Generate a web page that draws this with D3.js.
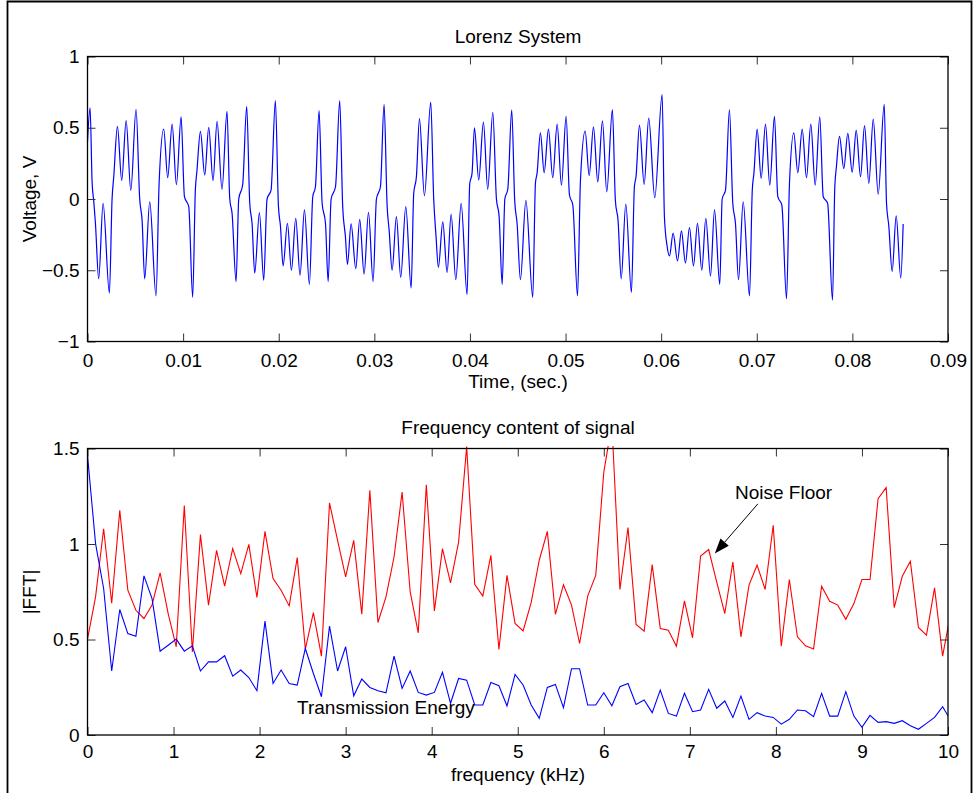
<!DOCTYPE html>
<html>
<head>
<meta charset="utf-8">
<script src="https://cdn.jsdelivr.net/npm/d3@7/dist/d3.min.js"></script>
<style>
  html, body { margin: 0; padding: 0; background: #fff; }
  svg { display: block; }
  text { font-family: "Liberation Sans", Arial, Helvetica, sans-serif; fill: #000; }
</style>
</head>
<body>
<svg id="fig" width="977" height="793"></svg>
<script>
// ---- Lorenz signal: time (ms) and voltage (V) at turning points / shoulders ----
const lorenzTimeMs = [
  0.00, 0.27, 0.48, 0.66, 0.83, 1.17, 1.63, 2.29, 2.57, 2.75, 3.13, 3.58, 4.04, 4.53, 5.08,
  5.46, 5.71, 5.98, 6.51, 7.17, 7.49, 7.97, 8.39, 8.85, 9.30, 9.79, 10.14, 10.59, 11.00,
  11.28, 11.45, 11.81, 12.26, 12.68, 13.13, 13.55, 14.07, 14.59, 14.88, 15.12, 15.54,
  15.82, 16.23, 16.65, 16.97, 17.21, 17.49, 17.98, 18.43, 18.78, 19.20, 19.65, 19.97,
  20.18, 20.46, 20.91, 21.33, 21.78, 22.23, 22.69, 23.21, 23.56, 23.84, 24.22, 24.54,
  24.89, 25.17, 25.48, 25.94, 26.38, 26.69, 26.97, 27.19, 27.57, 28.06, 28.47, 28.93,
  29.39, 29.87, 30.22, 30.64, 31.02, 31.34, 31.55, 31.86, 32.31, 32.76, 33.29, 33.85,
  34.12, 34.40, 34.72, 35.24, 35.90, 36.21, 36.45, 36.70, 37.16, 37.61, 38.03, 38.52,
  39.08, 39.70, 39.98, 40.22, 40.47, 40.92, 41.41, 41.86, 42.39, 42.77, 43.05, 43.37,
  43.65, 43.96, 44.37, 44.68, 44.93, 45.28, 45.85, 46.57, 46.85, 47.02, 47.37, 47.76,
  48.21, 48.66, 49.12, 49.57, 50.06, 50.41, 50.76, 51.25, 51.56, 52.05, 52.47, 52.92,
  53.37, 53.86, 54.31, 54.90, 55.21, 55.49, 55.82, 56.30, 56.89, 57.20, 57.37, 57.73,
  58.22, 58.70, 59.33, 60.10, 60.34, 60.62, 60.87, 61.25, 61.71, 62.12, 62.54, 62.96,
  63.38, 63.80, 64.25, 64.67, 65.16, 65.58, 66.13, 66.38, 66.73, 67.14, 67.49, 67.77,
  68.09, 68.58, 69.24, 69.53, 69.70, 70.04, 70.46, 70.91, 71.36, 71.85, 72.20, 72.62,
  73.11, 73.42, 73.87, 74.29, 74.75, 75.20, 75.65, 76.11, 76.59, 76.95, 77.41, 77.92,
  78.16, 78.33, 78.65, 79.10, 79.52, 79.98, 80.40, 80.85, 81.27, 81.72, 82.18, 82.70,
  83.33, 83.57, 83.81, 84.16, 84.58, 85.06, 85.31
];
const lorenzVolt = [
  0.40, 0.64, 0.12, -0.02, -0.17, -0.56, -0.03, -0.66, 0.00, 0.16, 0.51, 0.13, 0.55, 0.06, 0.63,
  0.00, -0.15, -0.56, -0.02, -0.68, 0.11, 0.49, 0.15, 0.525, 0.10, 0.576, 0.016, -0.054, -0.69,
  0.063, 0.20, 0.475, 0.168, 0.503, 0.128, 0.545, 0.068, 0.615, 0.00, -0.10, -0.58,
  0.00, 0.10, 0.65, -0.03, -0.17, -0.52, -0.095, -0.57, 0.00, 0.063, 0.69, -0.05,
  -0.19, -0.47, -0.17, -0.50, -0.135, -0.535, -0.077, -0.60, 0.016, 0.086, 0.62, -0.03,
  -0.17, -0.58, 0.00, 0.086, 0.69, -0.05, -0.26, -0.46, -0.175, -0.49, -0.142, -0.527,
  -0.093, -0.58, 0.00, 0.086, 0.664, -0.05, -0.22, -0.50, -0.124, -0.55, -0.054, -0.625,
  0.04, 0.156, 0.564, 0.023, 0.68, 0.00, -0.26, -0.48, -0.16, -0.515, -0.107, -0.566,
  -0.03, -0.67, 0.109, 0.18, 0.50, 0.133, 0.54, 0.068, 0.608, 0.00, -0.12, -0.60,
  0.00, 0.07, 0.625, -0.01, -0.17, -0.566, -0.01, -0.69, 0.11, 0.18, 0.464, 0.184,
  0.49, 0.149, 0.525, 0.097, 0.58, 0.028, -0.042, -0.68, 0.133, 0.477, 0.165, 0.506,
  0.12, 0.548, 0.05, 0.627, -0.01, -0.15, -0.56, -0.035, -0.655, 0.086, 0.156, 0.518,
  0.102, 0.568, 0.009, 0.732, -0.124, -0.33, -0.40, -0.24, -0.434, -0.224, -0.45, -0.20,
  -0.47, -0.17, -0.50, -0.135, -0.54, -0.077, -0.60, 0.00, 0.063, 0.627, -0.03, -0.17,
  -0.566, -0.02, -0.68, 0.063, 0.18, 0.49, 0.144, 0.525, 0.097, 0.58, 0.016, -0.042,
  -0.70, 0.11, 0.464, 0.184, 0.49, 0.149, 0.525, 0.097, 0.576, 0.016, -0.03, -0.71,
  0.086, 0.226, 0.44, 0.214, 0.46, 0.188, 0.482, 0.156, 0.515, 0.109, 0.56, 0.033,
  0.664, -0.03, -0.19, -0.508, -0.118, -0.554, -0.175
];

// ---- Spectrum: bin width (kHz) and |FFT| magnitudes per bin ----
const binWidthKHz = 0.09375;
const noiseFloorFFT = [
  0.502, 0.723, 1.08, 0.69, 1.176, 0.758, 0.653, 0.61, 0.68, 0.849,
  0.636, 0.462, 1.202, 0.435, 1.049, 0.68, 0.967, 0.779, 0.976, 0.845,
  0.998, 0.72, 1.066, 0.819, 0.758, 0.676, 0.929, 0.45, 0.641, 0.413,
  1.215, 1.019, 0.828, 1.019, 0.633, 1.281, 0.589, 0.723, 0.932, 1.272,
  0.749, 0.535, 1.31, 0.65, 0.976, 0.796, 1.01, 1.51, 0.789, 0.727,
  0.941, 0.448, 0.836, 0.584, 0.545, 0.694, 0.915, 1.066, 0.632, 0.787,
  0.68, 0.479, 0.727, 0.836, 1.376, 1.63, 0.762, 1.086, 0.579, 0.544,
  0.892, 0.558, 0.549, 0.465, 0.702, 0.509, 0.937, 0.971, 0.801, 0.636,
  0.906, 0.514, 0.785, 0.889, 0.762, 1.098, 0.465, 0.814, 0.514, 0.467,
  0.45, 0.779, 0.70, 0.68, 0.606, 0.688, 0.814, 0.814, 1.237, 1.295,
  0.667, 0.831, 0.91, 0.563, 0.523, 0.77, 0.413, 0.64
];
const transmissionFFT = [
  1.464, 1.002, 0.767, 0.335, 0.657, 0.531, 0.517, 0.833, 0.714, 0.439,
  0.47, 0.502, 0.439, 0.467, 0.335, 0.383, 0.383, 0.415, 0.308, 0.34,
  0.301, 0.232, 0.596, 0.27, 0.34, 0.27, 0.261, 0.453, 0.322, 0.20,
  0.57, 0.335, 0.462, 0.205, 0.293, 0.249, 0.232, 0.221, 0.413, 0.244,
  0.335, 0.223, 0.209, 0.223, 0.328, 0.166, 0.296, 0.287, 0.157, 0.157,
  0.275, 0.258, 0.152, 0.317, 0.262, 0.157, 0.087, 0.249, 0.265, 0.143,
  0.347, 0.347, 0.157, 0.157, 0.221, 0.153, 0.253, 0.27, 0.16, 0.183,
  0.117, 0.235, 0.113, 0.099, 0.218, 0.122, 0.131, 0.239, 0.14, 0.178,
  0.092, 0.204, 0.082, 0.117, 0.099, 0.092, 0.057, 0.082, 0.131, 0.127,
  0.096, 0.218, 0.099, 0.099, 0.227, 0.099, 0.04, 0.103, 0.066, 0.07,
  0.061, 0.075, 0.049, 0.03, 0.061, 0.092, 0.148, 0.077
];

// ---- Tick values and labels ----
const timeTicks = [0, 0.01, 0.02, 0.03, 0.04, 0.05, 0.06, 0.07, 0.08, 0.09];
const timeTickLabels = ["0", "0.01", "0.02", "0.03", "0.04", "0.05", "0.06", "0.07", "0.08", "0.09"];
const voltTicks = [-1, -0.5, 0, 0.5, 1];
const voltTickLabels = ["\u22121", "\u22120.5", "0", "0.5", "1"];
const freqTicks = [0, 1, 2, 3, 4, 5, 6, 7, 8, 9, 10];
const freqTickLabels = ["0", "1", "2", "3", "4", "5", "6", "7", "8", "9", "10"];
const fftTicks = [0, 0.5, 1, 1.5];
const fftTickLabels = ["0", "0.5", "1", "1.5"];

// ---- Annotations (data coordinates of the lower axes) ----
const noiseLabel = { text: "Noise Floor", f: 7.525, v: 1.235 };
const noiseArrow = { f0: 7.79, v0: 1.21, f1: 7.29, v1: 0.95 };
const transLabel = { text: "Transmission Energy", f: 2.435, v: 0.11 };

const FONT = 19;
const svg = d3.select("#fig");

// Figure frame
svg.append("rect").attr("width", 977).attr("height", 793).attr("fill", "#fff");
svg.append("path")
  .attr("d", "M7.5,800 V1.5 H971.5 V800")
  .attr("fill", "none").attr("stroke", "#000").attr("stroke-width", 1.8);

const left = 87.5, right = 948;

function drawAxes(g, x, y, xt, xl, yt, yl, xPad) {
  const [y0, y1] = y.range();
  const [x0, x1] = x.range();
  // labelled bottom/left axes, mirrored unlabelled top/right ticks
  g.append("g").attr("transform", `translate(0,${y0})`)
    .call(d3.axisBottom(x).tickValues(xt).tickFormat((d, i) => xl[i]).tickSize(-8).tickPadding(xPad))
    .call(s => s.select(".domain").remove());
  g.append("g").attr("transform", `translate(0,${y1})`)
    .call(d3.axisTop(x).tickValues(xt).tickFormat("").tickSize(-8))
    .call(s => s.select(".domain").remove());
  g.append("g").attr("transform", `translate(${x0},0)`)
    .call(d3.axisLeft(y).tickValues(yt).tickFormat((d, i) => yl[i]).tickSize(-8).tickPadding(8))
    .call(s => s.select(".domain").remove());
  g.append("g").attr("transform", `translate(${x1},0)`)
    .call(d3.axisRight(y).tickValues(yt).tickFormat("").tickSize(-8))
    .call(s => s.select(".domain").remove());
  g.selectAll(".tick line").attr("stroke", "#333").attr("stroke-width", 1);
  g.selectAll(".tick text").attr("font-size", FONT).attr("font-family", null).attr("fill", "#000");
  g.append("rect")
    .attr("x", x0).attr("y", y1).attr("width", x1 - x0).attr("height", y0 - y1)
    .attr("fill", "none").attr("stroke", "#000").attr("stroke-width", 1.3);
}

// ---------------- Top panel: Lorenz System ----------------
const xT = d3.scaleLinear().domain([0, 0.09]).range([left, right]);
const yT = d3.scaleLinear().domain([-1, 1]).range([341.5, 56.5]);
const gTop = svg.append("g");

const lorenz = lorenzTimeMs.map((t, i) => ({ t: t / 1000, v: lorenzVolt[i] }));
gTop.append("path")
  .datum(lorenz)
  .attr("fill", "none").attr("stroke", "#0000ff").attr("stroke-width", 1.2)
  .attr("d", d3.line().x(d => xT(d.t)).y(d => yT(d.v)).curve(d3.curveMonotoneX));

drawAxes(gTop, xT, yT, timeTicks, timeTickLabels, voltTicks, voltTickLabels, 12);

gTop.append("text").attr("x", 518).attr("y", 43).attr("text-anchor", "middle")
  .attr("font-size", FONT).text("Lorenz System");
gTop.append("text").attr("x", 518).attr("y", 388).attr("text-anchor", "middle")
  .attr("font-size", FONT).text("Time, (sec.)");
gTop.append("text").attr("transform", "translate(36,199) rotate(-90)").attr("text-anchor", "middle")
  .attr("font-size", FONT).text("Voltage, V");

// ---------------- Bottom panel: spectrum ----------------
const xB = d3.scaleLinear().domain([0, 10]).range([left, right]);
const yB = d3.scaleLinear().domain([0, 1.5]).range([735, 448.5]);
const gBot = svg.append("g");

svg.append("defs").append("clipPath").attr("id", "clipB")
  .append("rect").attr("x", left).attr("y", 446).attr("width", right - left).attr("height", 735 - 446 + 2);

const freqs = noiseFloorFFT.map((_, k) => k * binWidthKHz);
const lineB = d3.line().x((d, i) => xB(freqs[i])).y(d => yB(d));

gBot.append("path").datum(noiseFloorFFT)
  .attr("clip-path", "url(#clipB)")
  .attr("fill", "none").attr("stroke", "#ff0000").attr("stroke-width", 1.1)
  .attr("d", lineB);
gBot.append("path").datum(transmissionFFT)
  .attr("clip-path", "url(#clipB)")
  .attr("fill", "none").attr("stroke", "#0000ff").attr("stroke-width", 1.1)
  .attr("d", lineB);

drawAxes(gBot, xB, yB, freqTicks, freqTickLabels, fftTicks, fftTickLabels, 10);

gBot.append("text").attr("x", 518).attr("y", 434).attr("text-anchor", "middle")
  .attr("font-size", FONT).text("Frequency content of signal");
gBot.append("text").attr("x", 518).attr("y", 781).attr("text-anchor", "middle")
  .attr("font-size", FONT).text("frequency (kHz)");
gBot.append("text").attr("transform", "translate(36,592) rotate(-90)").attr("text-anchor", "middle")
  .attr("font-size", FONT).text("|FFT|");

// annotations
gBot.append("text").attr("x", xB(transLabel.f)).attr("y", yB(transLabel.v))
  .attr("font-size", FONT).text(transLabel.text);
gBot.append("text").attr("x", xB(noiseLabel.f)).attr("y", yB(noiseLabel.v))
  .attr("font-size", FONT).text(noiseLabel.text);

const ax0 = xB(noiseArrow.f0), ay0 = yB(noiseArrow.v0);
const ax1 = xB(noiseArrow.f1), ay1 = yB(noiseArrow.v1);
const ang = Math.atan2(ay1 - ay0, ax1 - ax0);
const headLen = 15, headHalf = 5.5;
const bx = ax1 - headLen * Math.cos(ang), by = ay1 - headLen * Math.sin(ang);
gBot.append("line").attr("x1", ax0).attr("y1", ay0).attr("x2", bx).attr("y2", by)
  .attr("stroke", "#000").attr("stroke-width", 1);
gBot.append("path")
  .attr("d", `M${ax1},${ay1} L${bx - headHalf * Math.sin(ang)},${by + headHalf * Math.cos(ang)} L${bx + headHalf * Math.sin(ang)},${by - headHalf * Math.cos(ang)} Z`)
  .attr("fill", "#000");
</script>
</body>
</html>
